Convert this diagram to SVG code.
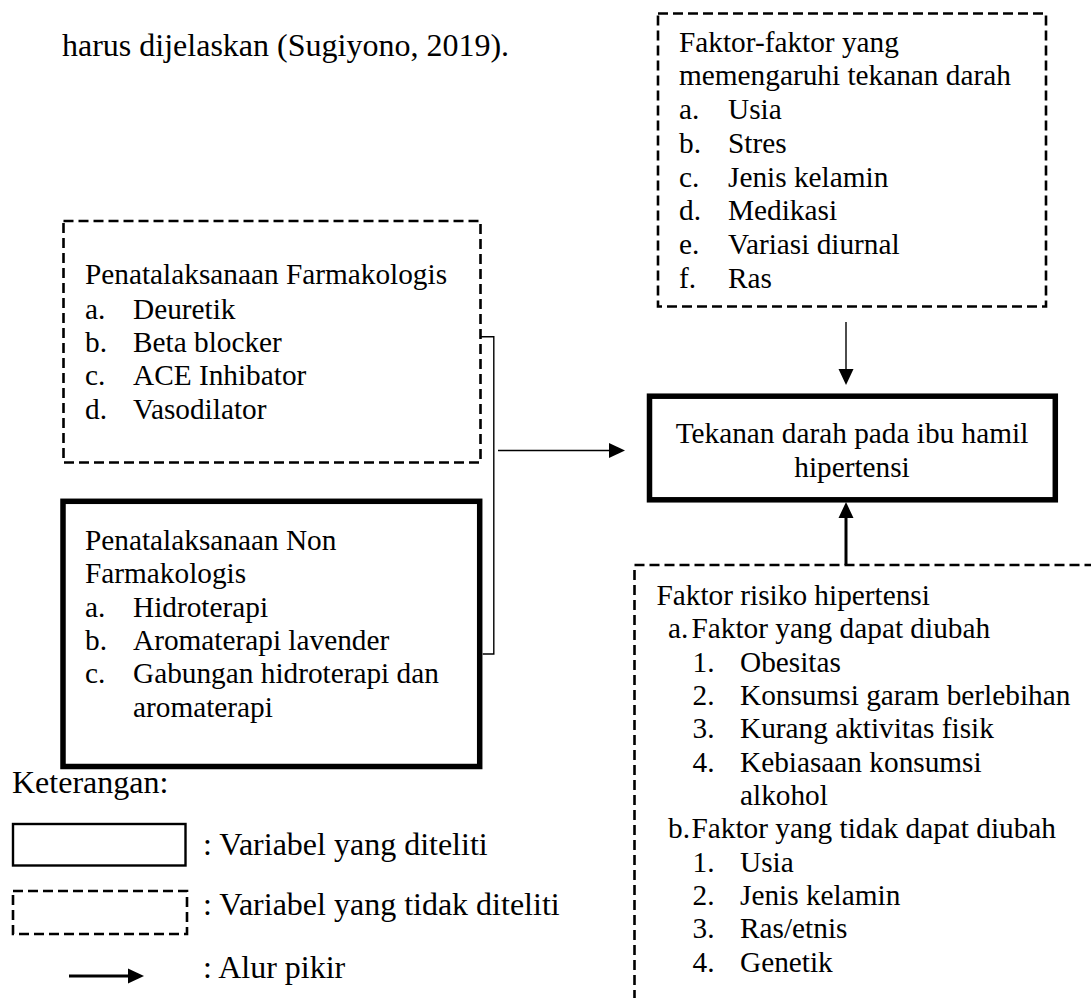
<svg xmlns="http://www.w3.org/2000/svg" width="1091" height="998" viewBox="0 0 1091 998">
<style>
  text { font-family: "Liberation Serif", "Times New Roman", serif; fill: #000; }
  .b { font-size: 29.3px; }
  .body { font-size: 32px; }
  .dash { fill: none; stroke: #000; stroke-width: 2.6; stroke-dasharray: 10 5; }
  .thick { fill: none; stroke: #000; stroke-width: 5.5; }
  .thin { fill: none; stroke: #000; stroke-width: 1.4; }
  .med { fill: none; stroke: #000; stroke-width: 3; }
</style>
<defs>
  <marker id="ah" viewBox="0 -8 16 16" markerWidth="16" markerHeight="16" refX="0" refY="0" orient="auto" markerUnits="userSpaceOnUse">
    <path d="M0,-7.5 L16,0 L0,7.5 Z" fill="#000"/>
  </marker>
</defs>
<rect width="1091" height="998" fill="#fff"/>

<text class="body" x="62" y="56">harus dijelaskan (Sugiyono, 2019).</text>

<g id="faktor-tekanan">
  <rect class="dash" x="658" y="13.5" width="388" height="293"/>
  <text class="b" x="679" y="52">Faktor-faktor yang</text>
  <text class="b" x="679" y="85">memengaruhi tekanan darah</text>
  <text class="b" x="679" y="118.5">a.</text><text class="b" x="728" y="118.5">Usia</text>
  <text class="b" x="679" y="152.5">b.</text><text class="b" x="728" y="152.5">Stres</text>
  <text class="b" x="679" y="186.5">c.</text><text class="b" x="728" y="186.5">Jenis kelamin</text>
  <text class="b" x="679" y="220">d.</text><text class="b" x="728" y="220">Medikasi</text>
  <text class="b" x="679" y="253.5">e.</text><text class="b" x="728" y="253.5">Variasi diurnal</text>
  <text class="b" x="679" y="288">f.</text><text class="b" x="728" y="288">Ras</text>
</g>

<g id="farmakologis">
  <rect class="dash" x="63.5" y="221" width="417" height="241.5"/>
  <text class="b" x="85" y="283.5">Penatalaksanaan Farmakologis</text>
  <text class="b" x="85" y="318.5">a.</text><text class="b" x="133" y="318.5">Deuretik</text>
  <text class="b" x="85" y="352">b.</text><text class="b" x="133" y="352">Beta blocker</text>
  <text class="b" x="85" y="385">c.</text><text class="b" x="133" y="385">ACE Inhibator</text>
  <text class="b" x="85" y="418.5">d.</text><text class="b" x="133" y="418.5">Vasodilator</text>
</g>

<g id="non-farmakologis">
  <rect class="thick" x="63" y="501.3" width="416.7" height="265.2"/>
  <text class="b" x="85" y="550">Penatalaksanaan Non</text>
  <text class="b" x="85" y="583.3">Farmakologis</text>
  <text class="b" x="85" y="616.7">a.</text><text class="b" x="133" y="616.7">Hidroterapi</text>
  <text class="b" x="85" y="650">b.</text><text class="b" x="133" y="650">Aromaterapi lavender</text>
  <text class="b" x="85" y="683.3">c.</text><text class="b" x="133" y="683.3">Gabungan hidroterapi dan</text>
  <text class="b" x="133" y="716.7">aromaterapi</text>
</g>

<g id="tekanan-darah">
  <rect class="thick" x="649.5" y="396.2" width="405.8" height="103.6"/>
  <text class="b" x="852" y="443" text-anchor="middle">Tekanan darah pada ibu hamil</text>
  <text class="b" x="852" y="476.5" text-anchor="middle">hipertensi</text>
</g>

<g id="faktor-risiko">
  <rect class="dash" x="634.5" y="565" width="520" height="500"/>
  <text class="b" x="656.5" y="605">Faktor risiko hipertensi</text>
  <text class="b" x="668" y="638.3">a.</text><text class="b" x="691.5" y="638.3">Faktor yang dapat diubah</text>
  <text class="b" x="692.5" y="671.7">1.</text><text class="b" x="740" y="671.7">Obesitas</text>
  <text class="b" x="692.5" y="705">2.</text><text class="b" x="740" y="705">Konsumsi garam berlebihan</text>
  <text class="b" x="692.5" y="738.3">3.</text><text class="b" x="740" y="738.3">Kurang aktivitas fisik</text>
  <text class="b" x="692.5" y="771.7">4.</text><text class="b" x="740" y="771.7">Kebiasaan konsumsi</text>
  <text class="b" x="740" y="805">alkohol</text>
  <text class="b" x="668" y="838.3">b.</text><text class="b" x="691.5" y="838.3">Faktor yang tidak dapat diubah</text>
  <text class="b" x="692.5" y="871.7">1.</text><text class="b" x="740" y="871.7">Usia</text>
  <text class="b" x="692.5" y="905">2.</text><text class="b" x="740" y="905">Jenis kelamin</text>
  <text class="b" x="692.5" y="938.3">3.</text><text class="b" x="740" y="938.3">Ras/etnis</text>
  <text class="b" x="692.5" y="971.7">4.</text><text class="b" x="740" y="971.7">Genetik</text>
</g>

<g id="connectors">
  <polyline class="thin" points="480.5,336.7 493.8,336.7 493.8,654 482.7,654"/>
  <line class="thin" x1="498" y1="450.5" x2="609" y2="450.5" marker-end="url(#ah)"/>
  <line class="thin" x1="846" y1="322" x2="846" y2="369" marker-end="url(#ah)"/>
  <line class="med" x1="846" y1="565" x2="846" y2="518" marker-end="url(#ah)"/>
</g>

<g id="legend">
  <text class="body" x="12" y="793">Keterangan:</text>
  <rect x="13" y="824" width="172.5" height="41.5" fill="none" stroke="#000" stroke-width="2.4"/>
  <text class="body" x="203" y="855">: Variabel yang diteliti</text>
  <rect class="dash" x="13" y="891" width="174" height="43"/>
  <text class="body" x="203" y="915">: Variabel yang tidak diteliti</text>
  <line class="med" x1="69" y1="976" x2="128" y2="976" marker-end="url(#ah)"/>
  <text class="body" x="203" y="978">: Alur pikir</text>
</g>
</svg>
